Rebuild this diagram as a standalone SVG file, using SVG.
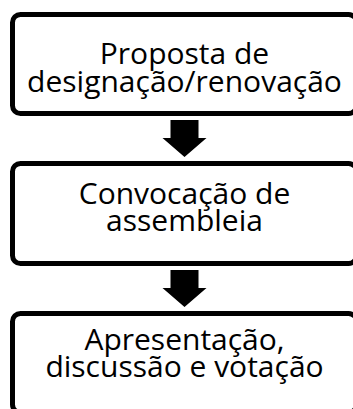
<svg xmlns="http://www.w3.org/2000/svg" width="353" height="409" viewBox="0 0 353 409">
<style>
.box{fill:#fff;stroke:#000;stroke-width:5}
.lbl{font-family:"Open Sans",sans-serif;font-size:30px;font-weight:400;fill:#000;text-anchor:middle}
.arr{fill:#000}
</style>
<rect width="353" height="409" fill="#fff"/>
<g id="connectors">
<polygon class="arr" points="170.5,120 198.5,120 198.5,138 206.5,138 184.5,157 162.5,138 170.5,138"/>
<polygon class="arr" points="170.5,270 198.5,270 198.5,288 206.5,288 184.5,307 162.5,288 170.5,288"/>
</g>
<g id="node1">
<rect class="box" x="12.5" y="14.5" width="344" height="99" rx="8"/>
<text class="lbl" x="184.5" y="64">Proposta de</text>
<text class="lbl" x="184.5" y="91.5">designação/renovação</text>
</g>
<g id="node2">
<rect class="box" x="12.5" y="163.5" width="344" height="100" rx="8"/>
<text class="lbl" x="184.5" y="204">Convocação de</text>
<text class="lbl" x="184.5" y="231">assembleia</text>
</g>
<g id="node3">
<rect class="box" x="12.5" y="313.5" width="344" height="99" rx="8"/>
<text class="lbl" x="184.5" y="350">Apresentação,</text>
<text class="lbl" x="184.5" y="377">discussão e votação</text>
</g>
</svg>
